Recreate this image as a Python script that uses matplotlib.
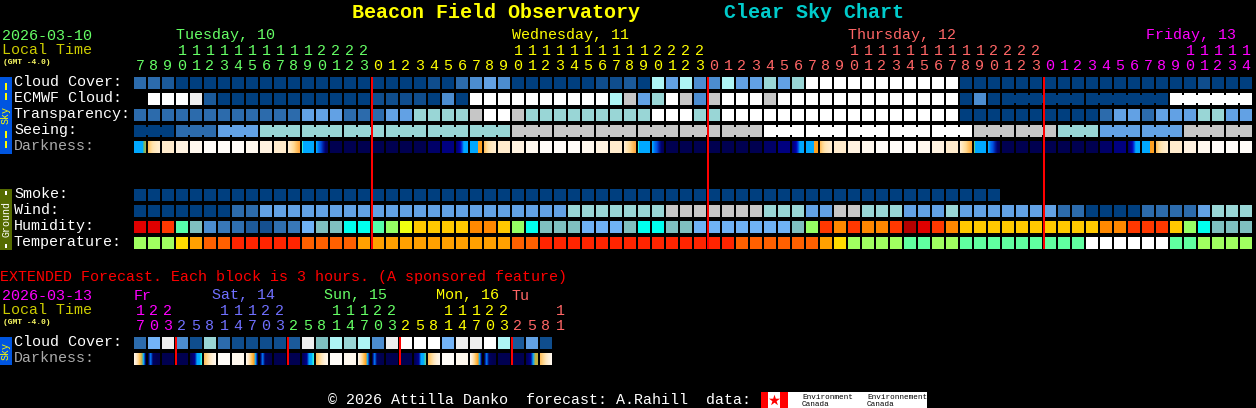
import numpy as np
import matplotlib
matplotlib.use("Agg")
import matplotlib.pyplot as plt
from matplotlib.colors import to_rgb

FONT = "Liberation Mono"

# ---------- data: one letter per forecast block ----------
CLOUD = list("ccmaaaaaaa" "aaaaaaaaaa" "abacdedaaa" "aaabbmaheh" "ddheegegkk"
             "kkkkkkkkka" "aaaaaaaaaa" "aaaaaabaaa")
ECMWF = list(" kkkjmaaaa" "aaaaaaabbb" "badakkkkkk" "kkkkhiegki" "dikkkikkkk"
             "kkkkkkkkka" "daaaaaaaaa" "aaaakkkkkk")
TRANSP = list("cccccccccc" "cceeecccee" "ggggikkigg" "gggggggkkk" "ggkkkkkkkk"
              "kkkkkkkkka" "aaaaaaaaac" "eeceeeggee")
SEEING = list("aaaccceeeg" "gggggggggg" "gggggggiii" "iiiiiiiiii" "iiiiikkkkk"
              "kkkkkkkkkk" "iiiiiiggge" "eeeeeiiiii")
DARKNESS = list("BO12344432" "1UTWnnnnnn" "nmlACO1234" "44321UTWnn" "nnnnnmlACO"
                "123444321U" "VWnnnnnnnm" "lACO123444")
SMOKE = list("aaaaaaaaaa" "aaaaaaaaaa" "aaaaaaaaaa" "aaaaaaaaaa" "aaaaaaaaaa"
             "aaaaaaaaaa" "aa")
WIND = list("aaaaaaacce" "eeeeeeeeee" "eeeeeeeeee" "egggggggii" "iiiiigggee"
            "iigggeeege" "eeeeeeccaa" "aacccceggg")
HUMID = list("RRQMTdpcmb" "cpLTTCCMGZ" "YYYYOOYGCT" "TTLLLTCCTT" "LLLLLLLTGQ"
             "OQOOQDRQOY" "YYYYYYYYYO" "OQQQYGCTTT")
TEMP = list("GGGYoddrrr" "rrddddoooo" "oooooooddr" "rrrrrrrrrr" "rrrddddddo"
            "YGGGGMMGGM" "MMMMMMMMWW" "WWWWMMGGGG")
EXT_CLOUD = list("cfjdbgcbbb" "bmjthghdjk" "kkfjjkhmeb")
EXT_DARK = list("aennfo43ce" "nnfo43cenn" "Fo43cennGo")

# hour of each block, day it belongs to
HOURS = [7, 8, 9, 10, 11, 12, 13, 14, 15, 16, 17, 18, 19, 20, 21, 22, 23,
         0, 1, 2, 3, 4, 5, 6, 7, 8, 9, 10, 11, 12, 13, 14, 15, 16, 17, 18, 19, 20, 21, 22, 23,
         0, 1, 2, 3, 4, 5, 6, 7, 8, 9, 10, 11, 12, 13, 14, 15, 16, 17, 18, 19, 20, 21, 22, 23,
         0, 1, 2, 3, 4, 5, 6, 7, 8, 9, 10, 11, 12, 13, 14]
HOUR_DAY = [0] * 17 + [1] * 24 + [2] * 24 + [3] * 15
DAY_NAMES = ["Tuesday, 10", "Wednesday, 11", "Thursday, 12", "Friday, 13"]
DAY_START_BLOCK = [3, 27, 51, 72.3]
DAY_COLORS = ["#66FF66", "#FFFF00", "#FF6666", "#FF00FF"]
MIDNIGHT_BLOCKS = [17, 41, 65]
ECMWF_JOINS = [62, 63, 64, 65, 66, 68, 69, 70, 71, 72, 74, 75, 76, 77, 78]

EXT_HOURS = [17, 20, 23, 2, 5, 8, 11, 14, 17, 20, 23, 2, 5, 8, 11, 14, 17, 20, 23,
             2, 5, 8, 11, 14, 17, 20, 23, 2, 5, 8, 11]
EXT_HOUR_DAY = [0] * 3 + [1] * 8 + [2] * 8 + [3] * 8 + [4] * 4
EXT_COLORS = ["#FF00FF", "#7070FF", "#66FF66", "#FFFF00", "#FF6666"]
EXT_NAMES = ["Fr", "Sat, 14", "Sun, 15", "Mon, 16", "Tu"]
EXT_NAME_BLOCK = [0, 5.57, 13.57, 21.57, 27]
EXT_MIDNIGHT = [3, 11, 19, 27]

# ---------- palettes ----------
SCALE = dict(a="#003F7F", b="#0F4D8D", m="#1B5A9A", c="#2C6BAC", d="#4C8DD0", e="#62A1E4",
             f="#73B4F7", g="#99D6D6", h="#AEF5F5", i="#C6C6C6", j="#EEEEEE", k="#FFFFFF", t="#7EBFBF")
HUM_COL = dict(R="#E00000", D="#B40000", Q="#FF3800", O="#FF8800", Y="#FFC800", Z="#F0FF10",
               G="#96FF64", M="#55FFAA", C="#00FFEE", T="#7FBFBF", L="#6FB2F5", d="#4B8DD0",
               p="#3878B8", c="#2F6FB0", m="#1D5A9A", b="#155090")
TEMP_COL = dict(G="#A0FF60", Y="#FFDC00", o="#FFA000", d="#FF6000", r="#FF2400", M="#60FFA0", W="#FFFFFF")
STRIPS = {
    "B": ["#00A8FF"] * 9 + ["#40B8A0", "#80B060", "#A0B050"],
    "C": ["#00A8FF"] * 8 + ["#FFA020"] * 4,
    "O": ["#FFC060", "#FFD890", "#FFE4B0", "#FFE8BE", "#FFEBC8", "#FFEDD0"],
    "U": ["#FFEDD0", "#FFE4B0", "#FFD890", "#FFC060", "#FFA840"],
    "T": ["#30F0E0"] + ["#00A8FF"] * 11,
    "V": ["#60D080"] + ["#00A8FF"] * 11,
    "W": ["#00A8FF", "#0070F0", "#0050E0", "#0020A0", "#000070", "#000058"],
    "A": ["#000070", "#000090", "#0000B0", "#0040E0", "#00A8FF", "#00A8FF", "#00A8FF"],
    "1": ["#FFEBCC", "#FFEBCC"], "2": ["#FFF2E0", "#FFF2E0"],
    "3": ["#FFF8EE", "#FFF8EE"], "4": ["#FFFCF8", "#FFFCF8"],
    "n": ["#000050", "#000050"], "m": ["#000068", "#000068"], "l": ["#000080", "#000080"],
    "a": ["#FFF6E8", "#FFE8C8", "#FFD898", "#FFC050", "#B8B050", "#00A8FF", "#000070"],
    "c": ["#FFF6E8", "#FFE8C8", "#FFD898", "#FFC050", "#FFA020", "#00A8FF", "#000070"],
    "e": ["#000058", "#0078FF", "#000060", "#000058", "#000050", "#000050"],
    "f": ["#000058", "#000070", "#000090", "#00A8FF", "#00A8FF", "#30F0E0"],
    "F": ["#000058", "#000070", "#000090", "#00A8FF", "#00A8FF", "#50D0A0"],
    "G": ["#000058", "#000070", "#000090", "#00A8FF", "#C0B040", "#C0B040"],
    "o": ["#FFC060", "#FFD890", "#FFE8C0", "#FFF2DC", "#FFF8EE"],
}

X0, STEP, CELL = 134, 14, 12
ROW_TOP = dict(cloud=77, ecmwf=93, transp=109, seeing=125, dark=141,
               smoke=189, wind=205, humid=221, temp=237, ext_cloud=337, ext_dark=353)

fig = plt.figure(figsize=(12.56, 4.08), dpi=100, facecolor="black")
ax = fig.add_axes([0, 0, 1, 1])
ax.set_facecolor("black")
ax.axis("off")


def px(size):
    return size * 0.72


def txt(x, y, s, color="white", size=15, **kw):
    kw.setdefault("family", FONT)
    kw.setdefault("va", "baseline")
    ax.text(x, y, s, color=color, fontsize=px(size), **kw)


def box(x, y, w, h, color, z=2):
    for patch in ax.bar(x, h, w, bottom=y, align="edge", color=color, linewidth=0, zorder=z):
        patch.set_snap(False)


def row(codes, top, pal):
    for i, c in enumerate(codes):
        if c != " ":
            box(X0 + i * STEP, top, CELL, CELL, pal[c])


def joins(codes, top, pal, idx):
    for i in idx:
        box(X0 + i * STEP + CELL, top + 2, STEP - CELL, CELL - 4, pal[codes[i]])


def strip_row(codes, top):
    for i, c in enumerate(codes):
        stops = np.array([to_rgb(s) for s in STRIPS[c]])
        t = np.linspace(0, 1, len(stops))
        u = np.linspace(0, 1, CELL)
        img = np.stack([np.interp(u, t, stops[:, k]) for k in range(3)], axis=1)[None, :, :]
        x = X0 + i * STEP
        ax.imshow(img, extent=(x, x + CELL, top + CELL, top), aspect="auto",
                  interpolation="nearest", zorder=2)


# ---------- blocks ----------
row(CLOUD, ROW_TOP["cloud"], SCALE)
row(ECMWF, ROW_TOP["ecmwf"], SCALE)
joins(ECMWF, ROW_TOP["ecmwf"], SCALE, ECMWF_JOINS)
row(TRANSP, ROW_TOP["transp"], SCALE)
row(SEEING, ROW_TOP["seeing"], SCALE)
joins(SEEING, ROW_TOP["seeing"], SCALE, [i for i in range(len(SEEING) - 1) if i % 3 != 2])
strip_row(DARKNESS, ROW_TOP["dark"])
row(SMOKE, ROW_TOP["smoke"], SCALE)
row(WIND, ROW_TOP["wind"], SCALE)
row(HUMID, ROW_TOP["humid"], HUM_COL)
row(TEMP, ROW_TOP["temp"], TEMP_COL)
row(EXT_CLOUD, ROW_TOP["ext_cloud"], SCALE)
strip_row(EXT_DARK, ROW_TOP["ext_dark"])

for b in MIDNIGHT_BLOCKS:
    box(X0 + b * STEP - 1, 77, 2, 172, "#FF0000", z=4)
for b in EXT_MIDNIGHT:
    box(X0 + b * STEP - 1, 337, 2, 28, "#FF0000", z=4)

# ---------- labels ----------
for label, key, col in [("Cloud Cover:", "cloud", "white"), ("ECMWF Cloud:", "ecmwf", "white"),
                        ("Transparency:", "transp", "white"), ("Seeing:", "seeing", "white"),
                        ("Darkness:", "dark", "#AAAAAA"), ("Smoke:", "smoke", "white"),
                        ("Wind:", "wind", "white"), ("Humidity:", "humid", "white"),
                        ("Temperature:", "temp", "white"), ("Cloud Cover:", "ext_cloud", "white"),
                        ("Darkness:", "ext_dark", "#AAAAAA")]:
    txt(14, ROW_TOP[key] + 9, label, col)

txt(352, 17.5, "Beacon Field Observatory", "#FFFF00", 20, weight="bold")
txt(724, 17.5, "Clear Sky Chart", "#00CCCC", 20, weight="bold")

txt(2, 39.5, "2026-03-10", "#66FF66")
txt(2, 54.5, "Local Time", "#CCCC00")
txt(3, 64, "(GMT -4.0)", "#FFFF66", 8, weight="bold")
for name, b, col in zip(DAY_NAMES, DAY_START_BLOCK, DAY_COLORS):
    txt(X0 + b * STEP, 39.5, name, col)
for i, (h, d) in enumerate(zip(HOURS, HOUR_DAY)):
    cx = X0 + i * STEP + CELL / 2
    if h >= 10:
        txt(cx, 55, str(h // 10), DAY_COLORS[d], ha="center")
    txt(cx, 70, str(h % 10), DAY_COLORS[d], ha="center")

txt(0, 280.5, "EXTENDED Forecast. Each block is 3 hours. (A sponsored feature)", "#FF0000")
txt(2, 299.5, "2026-03-13", "#FF00FF")
txt(2, 314.5, "Local Time", "#CCCC00")
txt(3, 324, "(GMT -4.0)", "#FFFF66", 8, weight="bold")
for name, b, col in zip(EXT_NAMES, EXT_NAME_BLOCK, EXT_COLORS):
    txt(X0 + b * STEP, 299.5, name, col)
for i, (h, d) in enumerate(zip(EXT_HOURS, EXT_HOUR_DAY)):
    cx = X0 + i * STEP + CELL / 2
    if h >= 10:
        txt(cx, 315, str(h // 10), EXT_COLORS[d], ha="center")
    txt(cx, 330, str(h % 10), EXT_COLORS[d], ha="center")

# side tabs
box(0, 77, 12, 77, "#0055E0")
box(0, 189, 12, 61, "#556B00")
box(0, 337, 12, 28, "#0055E0")
for y in [83, 93, 131, 141]:
    box(5, y, 2, 7, "#FFFF00", z=3)
for y in [191, 244]:
    box(5, y, 2, 4, "white", z=3)
txt(6, 115.5, "Sky", "#FFFF00", 10, rotation=90, ha="center", va="center", rotation_mode="anchor", zorder=3)
txt(6, 219, "Ground", "white", 10, rotation=90, ha="center", va="center", rotation_mode="anchor", zorder=3)
txt(6, 351, "Sky", "#FFFF00", 10, rotation=90, ha="center", va="center", rotation_mode="anchor", zorder=3)

# footer
txt(328, 404.5, "\u00a9 2026 Attilla Danko  forecast: A.Rahill  data:", "white")
box(761, 392, 166, 16, "white")
box(761, 392, 7, 16, "#FF0000", z=3)
box(780, 392, 8, 16, "#FF0000", z=3)
ax.scatter([774], [400], marker="*", s=70, color="#FF0000", linewidths=0, zorder=3)
for x, a in [(802, "Environment"), (867, "Environnement")]:
    txt(x, 399, a, "black", 7.6, zorder=3)
    txt(x, 406, "Canada", "black", 7.6, zorder=3)

ax.set_xlim(0, 1256)
ax.set_ylim(408, 0)
fig.savefig("out.png", dpi=100, facecolor="black")
